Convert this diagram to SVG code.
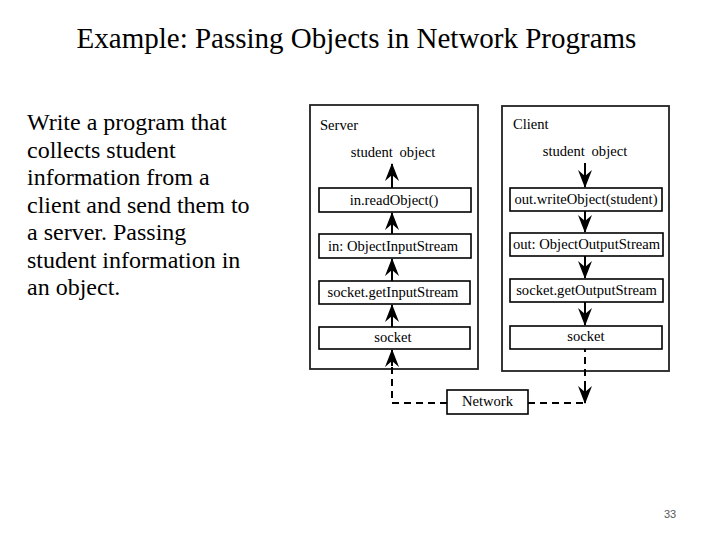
<svg xmlns="http://www.w3.org/2000/svg" width="720" height="540" viewBox="0 0 720 540">
<defs>
<style>
.t{font-family:"Liberation Serif","Times New Roman",serif;fill:#000}
.title{font-size:29px}
.body{font-size:24px}
.lbl{font-size:14.6px}
.nb{font-size:14.6px;text-anchor:middle}
.outer{fill:#fff;stroke:#222;stroke-width:1.8}
.box{fill:#fff;stroke:#000;stroke-width:1.6}
.ln{fill:none;stroke:#000;stroke-width:2}
.dash{fill:none;stroke:#000;stroke-width:2;stroke-dasharray:7 5}
</style>
<marker id="ah" viewBox="-17 -8 19 16" refX="0" refY="0" markerWidth="19" markerHeight="16" markerUnits="userSpaceOnUse" orient="auto">
<path d="M1,0 L-17,-7 L-11,0 L-17,7 Z" fill="#000"/>
</marker>
</defs>
<rect width="720" height="540" fill="#fff"/>
<text class="t title" x="356.5" y="48" text-anchor="middle" font-family="Liberation Serif, serif">Example: Passing Objects in Network Programs</text>
<g id="description" font-family="Liberation Serif, serif">
<text class="t body" x="27" y="130">Write a program that</text>
<text class="t body" x="27" y="157.5">collects student</text>
<text class="t body" x="27" y="185">information from a</text>
<text class="t body" x="27" y="212.5">client and send them to</text>
<text class="t body" x="27" y="240">a server. Passing</text>
<text class="t body" x="27" y="267.5">student information in</text>
<text class="t body" x="27" y="295">an object.</text>
</g>
<g id="server">
<rect class="outer" x="310" y="105" width="168" height="264"/>
<text class="t lbl" x="320" y="130">Server</text>
<text class="t nb" x="393" y="157" word-spacing="3">student object</text>
</g>
<g id="client">
<rect class="outer" x="502" y="106" width="167" height="265"/>
<text class="t lbl" x="513" y="129">Client</text>
<text class="t nb" x="585" y="156" word-spacing="3">student object</text>
</g>
<g id="s-read"><rect class="box" x="319" y="188" width="152" height="24"/><text class="t nb" x="394" y="205">in.readObject()</text></g>
<g id="s-ois"><rect class="box" x="319" y="234" width="152" height="24"/><text class="t nb" x="393" y="251">in: ObjectInputStream</text></g>
<g id="s-gis"><rect class="box" x="319" y="281" width="151" height="23"/><text class="t nb" x="393" y="297">socket.getInputStream</text></g>
<g id="s-sock"><rect class="box" x="319" y="327" width="151" height="22"/><text class="t nb" x="393" y="342">socket</text></g>
<g id="c-write"><rect class="box" x="510" y="188" width="152" height="23"/><text class="t nb" x="586" y="204">out.writeObject(student)</text></g>
<g id="c-oos"><rect class="box" x="510" y="233" width="153" height="23"/><text class="t nb" x="586.5" y="249">out: ObjectOutputStream</text></g>
<g id="c-gos"><rect class="box" x="510" y="279" width="153" height="23"/><text class="t nb" x="586.5" y="295">socket.getOutputStream</text></g>
<g id="c-sock"><rect class="box" x="510" y="326" width="152" height="23"/><text class="t nb" x="586" y="341">socket</text></g>
<g id="network"><rect class="box" x="447" y="390" width="81" height="24"/><text class="t nb" x="487.5" y="406">Network</text></g>
<g id="connectors">
<line class="ln" x1="392" y1="188" x2="392" y2="164" marker-end="url(#ah)"/>
<line class="ln" x1="392" y1="234" x2="392" y2="213" marker-end="url(#ah)"/>
<line class="ln" x1="392" y1="281" x2="392" y2="259" marker-end="url(#ah)"/>
<line class="ln" x1="392" y1="327" x2="392" y2="305" marker-end="url(#ah)"/>
<path class="dash" d="M447,403 H392 V362"/>
<line class="ln" x1="392" y1="366" x2="392" y2="350" marker-end="url(#ah)"/>
<line class="ln" x1="585" y1="163" x2="585" y2="187" marker-end="url(#ah)"/>
<line class="ln" x1="585" y1="211" x2="585" y2="232" marker-end="url(#ah)"/>
<line class="ln" x1="585" y1="256" x2="585" y2="278" marker-end="url(#ah)"/>
<line class="ln" x1="585" y1="302" x2="585" y2="325" marker-end="url(#ah)"/>
<path class="dash" d="M528,403 H585 V349"/>
<line class="ln" x1="585" y1="388" x2="585" y2="403" marker-end="url(#ah)"/>
</g>
<text x="670" y="518" text-anchor="middle" font-family="Liberation Sans, Arial, sans-serif" font-size="11" fill="#595959">33</text>
</svg>
